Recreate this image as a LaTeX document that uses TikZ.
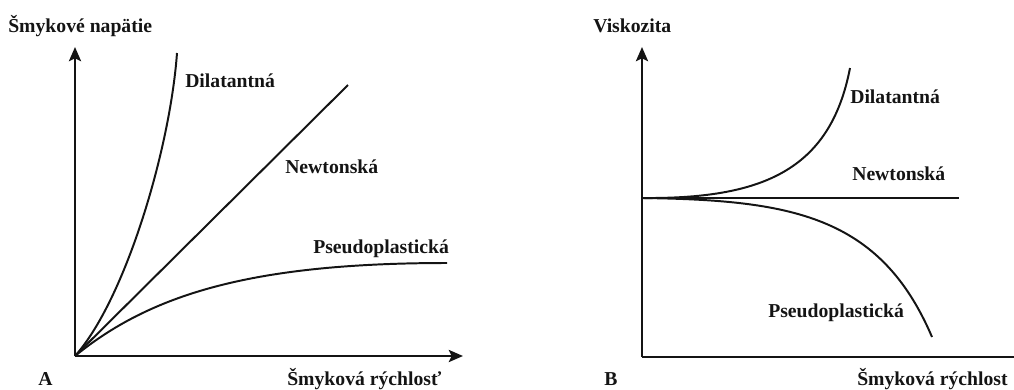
\documentclass[tikz,border=0pt]{standalone}
\usepackage{fontspec}
\setmainfont{Liberation Serif}
\usepackage{tikz}
\usetikzlibrary{arrows.meta, positioning}
\definecolor{mydark}{RGB}{20,20,20}
\tikzset{
  axis/.style={-{Stealth[length=10pt, width=8.5pt, inset=2pt]}, line width=2pt, color=mydark},
  curve/.style={line width=1.4pt, color=mydark},
  lbl/.style={font=\fontsize{14}{16}\selectfont\bfseries, inner sep=0pt, anchor=base west, color=mydark}
}
\begin{document}
\begin{tikzpicture}[x=0.025cm, y=-0.025cm]
  \useasboundingbox (0,0) rectangle (1014,389);

  % Panel A: shear stress vs shear rate
  \coordinate (oA) at (75,356);
  \coordinate (yA) at (75,47);
  \coordinate (xA) at (463,356);
  \draw[axis] (oA) -- (yA);
  \draw[axis] (oA) -- (xA);
  \node[lbl] (ylabA) at (8,32) {Šmykové napätie};
  \node[lbl] (xlabA) at (287,385) {Šmyková rýchlosť};
  \node[lbl] (labA) at (38,385) {A};
  \draw[curve] (oA) .. controls (125,300) and (170,150) .. (177,53);
  \node[lbl] (dilA) at (185,87) {Dilatantná};
  \draw[curve] (oA) -- (348,85);
  \node[lbl] (newtA) at (285,173) {Newtonská};
  \draw[curve] (oA) .. controls (150,295) and (250,263) .. (447,263);
  \node[lbl] (pseudoA) at (313,253) {Pseudoplastická};

  % Panel B: viscosity vs shear rate
  \coordinate (oB) at (642,357);
  \coordinate (yB) at (642,47);
  \coordinate (xB) at (1030,357);
  \draw[axis] (oB) -- (yB);
  \draw[axis] (oB) -- (xB);
  \node[lbl] (ylabB) at (593,32) {Viskozita};
  \node[lbl] (xlabB) at (857,385) {Šmyková rýchlost};
  \node[lbl] (labB) at (604,385) {B};
  \coordinate (nB) at (642,198);
  \draw[curve] (nB) -- (959,198);
  \node[lbl] (newtB) at (852,180) {Newtonská};
  \draw[curve] (nB) .. controls (760,199) and (830,172) .. (850,68);
  \node[lbl] (dilB) at (850,103) {Dilatantná};
  \draw[curve] (nB) .. controls (790,200) and (880,215) .. (932,337);
  \node[lbl] (pseudoB) at (768,317) {Pseudoplastická};
\end{tikzpicture}
\end{document}
